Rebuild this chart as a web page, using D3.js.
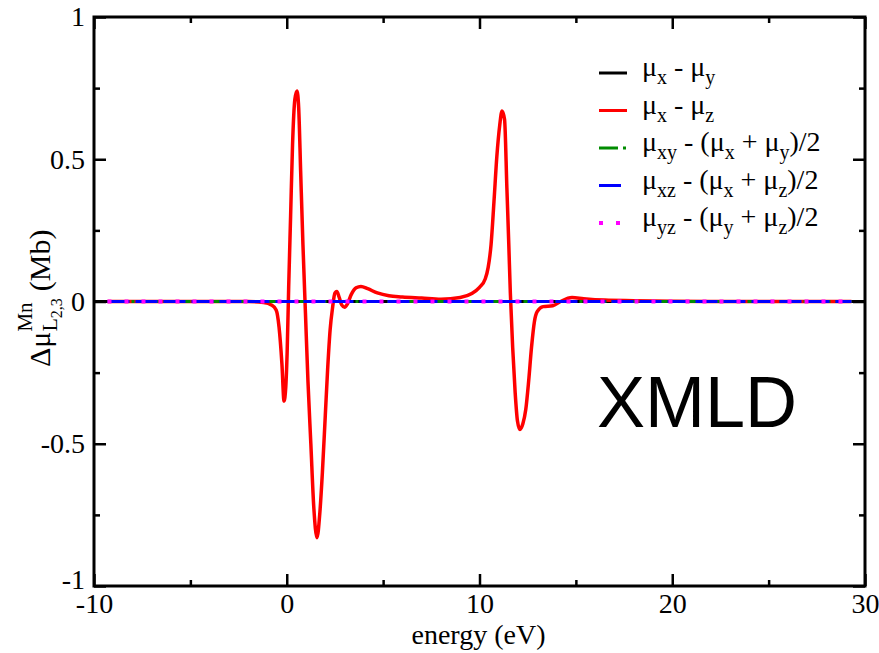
<!DOCTYPE html>
<html>
<head>
<meta charset="utf-8">
<script src="https://cdn.jsdelivr.net/npm/d3@7"></script>
<style>
  body { margin: 0; background: #fff; }
  text { font-family: "Liberation Serif", "Times New Roman", serif; fill: #000; }
</style>
</head>
<body>
<svg id="chart" width="879" height="653"></svg>
<script>
// red curve: mu_x - mu_z, energy in eV, delta mu in Mb
const energy = [-9.3, -2.0, -1.2, -0.8, -0.55, -0.4, -0.25, -0.14, -0.05, 0.02,
    0.1, 0.2, 0.3, 0.42, 0.53, 0.62, 0.72, 0.84, 0.97, 1.1,
    1.25, 1.4, 1.57, 1.72, 1.85, 2.0, 2.12, 2.25, 2.38, 2.5,
    2.6, 2.72, 2.85, 3.0, 3.15, 3.35, 3.6, 3.85, 4.2, 4.7,
    5.3, 6.0, 7.0, 8.0, 9.0, 9.6, 10.0, 10.3, 10.45, 10.6,
    10.75, 10.9, 11.05, 11.17, 11.3, 11.42, 11.52, 11.6, 11.72, 11.85,
    11.97, 12.1, 12.25, 12.4, 12.55, 12.7, 12.85, 13.0, 13.3, 13.8,
    14.2, 14.8, 15.4, 16.5, 18.0, 20.0, 22.0, 29.3];
const muXminusZ = [0, 0, -0.004, -0.012, -0.03, -0.09, -0.22, -0.35, -0.3, -0.18,
    0.05, 0.3, 0.55, 0.71, 0.74, 0.68, 0.46, 0.2, -0.04, -0.28,
    -0.5, -0.72, -0.83, -0.74, -0.6, -0.4, -0.24, -0.1, -0.02, 0.03,
    0.035, 0.015, -0.012, -0.02, -0.008, 0.025, 0.048, 0.053, 0.045, 0.03,
    0.02, 0.016, 0.012, 0.008, 0.014, 0.028, 0.05, 0.08, 0.12, 0.2,
    0.35, 0.51, 0.62, 0.67, 0.64, 0.4, 0.2, 0.03, -0.16, -0.32,
    -0.42, -0.45, -0.43, -0.38, -0.28, -0.16, -0.07, -0.035, -0.018, -0.015,
    0, 0.014, 0.01, 0.005, 0.003, 0.001, 0, 0];

// the other differences are flat at zero
const energyFull = [-10, 30];
const energyShort = [-9.3, 29.3];
const muXminusY = [0, 0];
const muXYdiff = [0, 0];
const muXZdiff = [0, 0];
const muYZdiff = [0, 0];

const xTicks = [-10, 0, 10, 20, 30];
const xMinor = [-5, 5, 15, 25];
const yTicks = [-1, -0.5, 0, 0.5, 1];
const yMinor = [-0.75, -0.25, 0.25, 0.75];

// legend labels: [text, level] where level -1 = subscript
const series = [
    {x: energyFull, y: muXminusY, color: '#000000', dash: null, width: 3,
        label: [['μ', 0], ['x', -1], [' - μ', 0], ['y', -1]]},
    {x: energy, y: muXminusZ, color: '#ff0000', dash: null, width: 3.5,
        label: [['μ', 0], ['x', -1], [' - μ', 0], ['z', -1]]},
    {x: energyShort, y: muXYdiff, color: '#008c00', dash: '19,5,3,5', width: 3,
        label: [['μ', 0], ['xy', -1], [' - (μ', 0], ['x', -1], [' + μ', 0], ['y', -1], [')/2', 0]]},
    {x: energyShort, y: muXZdiff, color: '#0000ff', dash: '22,6', width: 3,
        label: [['μ', 0], ['xz', -1], [' - (μ', 0], ['x', -1], [' + μ', 0], ['z', -1], [')/2', 0]]},
    {x: energyShort, y: muYZdiff, color: '#ff00ff', dash: '4,13', width: 4,
        label: [['μ', 0], ['yz', -1], [' - (μ', 0], ['y', -1], [' + μ', 0], ['z', -1], [')/2', 0]]}
];

const svg = d3.select('#chart');
const margin = {left: 94, right: 14, top: 17, bottom: 67};
const width = 879 - margin.left - margin.right;
const height = 653 - margin.top - margin.bottom;

const x = d3.scaleLinear().domain([-10, 30]).range([0, width]);
const y = d3.scaleLinear().domain([-1, 1]).range([height, 0]);

svg.append('rect').attr('width', 879).attr('height', 653).attr('fill', '#fff');
const g = svg.append('g').attr('transform', `translate(${margin.left},${margin.top})`);

// curves
const line = d3.line()
    .x(function(d) { return x(d[0]); })
    .y(function(d) { return y(d[1]); })
    .curve(d3.curveMonotoneX);

series.forEach(function(s) {
    g.append('path')
        .datum(d3.zip(s.x, s.y))
        .attr('d', line)
        .attr('fill', 'none')
        .attr('stroke', s.color)
        .attr('stroke-width', s.width)
        .attr('stroke-dasharray', s.dash)
        .attr('stroke-linejoin', 'round');
});

// axes, ticks point inward on all four sides
function styleAxis(sel) {
    sel.select('.domain').remove();
    sel.selectAll('line').attr('stroke', '#000').attr('stroke-width', 2.5);
    sel.selectAll('text').attr('font-size', 28);
}
const fmt = function(d) { return d3.format('')(d).replace('−', '-'); };

g.append('g').attr('transform', `translate(0,${height})`)
    .call(d3.axisBottom(x).tickValues(xTicks).tickSize(-12).tickPadding(7).tickFormat(fmt))
    .call(styleAxis);
g.append('g').attr('transform', `translate(0,${height})`)
    .call(d3.axisBottom(x).tickValues(xMinor).tickSize(-6).tickFormat(''))
    .call(styleAxis);
g.append('g')
    .call(d3.axisTop(x).tickValues(xTicks).tickSize(-12).tickFormat(''))
    .call(styleAxis);
g.append('g')
    .call(d3.axisTop(x).tickValues(xMinor).tickSize(-6).tickFormat(''))
    .call(styleAxis);
g.append('g')
    .call(d3.axisLeft(y).tickValues(yTicks).tickSize(-12).tickPadding(9).tickFormat(fmt))
    .call(styleAxis)
    .selectAll('.tick')
    .filter(function(d) { return d === -1; })
    .select('text').attr('dy', '0.1em');
g.append('g')
    .call(d3.axisLeft(y).tickValues(yMinor).tickSize(-6).tickFormat(''))
    .call(styleAxis);
g.append('g').attr('transform', `translate(${width},0)`)
    .call(d3.axisRight(y).tickValues(yTicks).tickSize(-12).tickFormat(''))
    .call(styleAxis);
g.append('g').attr('transform', `translate(${width},0)`)
    .call(d3.axisRight(y).tickValues(yMinor).tickSize(-6).tickFormat(''))
    .call(styleAxis);

// frame
g.append('rect')
    .attr('width', width).attr('height', height)
    .attr('fill', 'none').attr('stroke', '#000').attr('stroke-width', 3);

// axis titles
svg.append('text')
    .attr('x', margin.left + width / 2 - 1).attr('y', 644)
    .attr('text-anchor', 'middle').attr('font-size', 28)
    .text('energy (eV)');

const yl = svg.append('g').attr('transform', 'translate(50,367) rotate(-90)');
const t1 = yl.append('text').attr('font-size', 30).text('Δμ');
const w1 = t1.node().getComputedTextLength();
const tL = yl.append('text').attr('x', w1).attr('y', 7).attr('font-size', 22).text('L');
const wL = tL.node().getComputedTextLength();
const t23 = yl.append('text').attr('x', w1 + wL).attr('y', 12).attr('font-size', 16).text('2,3');
const w23 = t23.node().getComputedTextLength();
const tMn = yl.append('text').attr('x', w1).attr('y', -18).attr('font-size', 21).text('Mn');
const wMn = tMn.node().getComputedTextLength();
yl.append('text').attr('x', w1 + Math.max(wL + w23, wMn) + 7).attr('font-size', 30).text('(Mb)');

// legend
const legendTop = 76, legendStep = 37.5;
series.forEach(function(s, i) {
    const yy = legendTop + i * legendStep;
    svg.append('line')
        .attr('x1', 599).attr('x2', 627)
        .attr('y1', yy - 3).attr('y2', yy - 3)
        .attr('stroke', s.color)
        .attr('stroke-width', s.width > 3.5 ? 4 : 3)
        .attr('stroke-dasharray', s.dash);
    const t = svg.append('text').attr('x', 642).attr('y', yy).attr('font-size', 28);
    let level = 0;
    s.label.forEach(function(p) {
        const dy = (p[1] - level) * -8;
        t.append('tspan')
            .attr('dy', dy)
            .attr('font-size', p[1] < 0 ? 20 : 28)
            .text(p[0]);
        level = p[1];
    });
});

// panel tag
svg.append('text')
    .attr('x', 597).attr('y', 427)
    .style('font-family', '"Liberation Sans", Arial, sans-serif')
    .attr('font-size', 72)
    .text('XMLD');
</script>
</body>
</html>
